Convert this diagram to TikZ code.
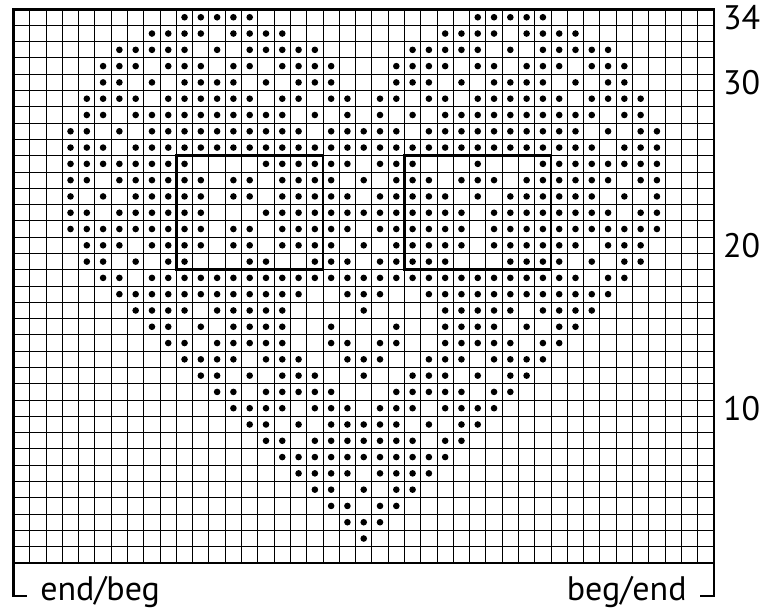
\documentclass[tikz,border=0pt]{standalone}
\usepackage{fontspec}
\setmainfont{PT Sans}
\usepackage{tikz}

\begin{document}
\begin{tikzpicture}[x=16.29pt,y=16.29pt,gridln/.style={line width=1pt},frame/.style={line width=2.8pt},dot/.style={fill=black},num/.style={font=\fontsize{34}{36}\selectfont,anchor=west,inner sep=0pt},lbl/.style={font=\fontsize{34}{36}\selectfont,inner sep=0pt},brk/.style={line width=2.4pt}]
\useasboundingbox (-0.829,-3.192) rectangle (45.95,34.56);
% chart grid
\foreach \i in {1,...,42} \draw[gridln] (\i,0)--(\i,34);
\foreach \j in {1,...,33} \draw[gridln] (0,\j)--(43,\j);
% stitches, row by row
\foreach \r/\cl in {
34/{11,12,13,14,15,29,30,31,32,33},
33/{9,10,11,12,14,15,16,17,27,28,29,30,32,33,34,35},
32/{7,8,9,10,11,13,15,16,17,18,19,25,26,27,28,29,31,33,34,35,36,37},
31/{6,7,8,10,11,12,14,15,17,18,19,20,24,25,26,27,29,30,32,33,34,36,37,38},
30/{6,7,9,11,12,13,14,16,18,19,20,24,25,26,28,30,31,32,33,35,37,38},
29/{5,6,7,8,10,11,12,13,14,15,17,18,20,21,23,24,26,27,29,30,31,32,33,34,36,37,38,39},
28/{5,6,8,9,10,11,12,13,14,15,16,17,19,21,23,25,27,28,29,30,31,32,33,34,35,36,38,39},
27/{4,5,7,9,10,11,12,13,14,15,16,17,18,20,21,22,23,24,26,27,28,29,30,31,32,33,34,35,37,39,40},
26/{4,5,6,8,9,10,11,12,13,14,15,16,17,18,19,20,21,22,23,24,25,26,27,28,29,30,31,32,33,34,35,36,38,39,40},
25/{4,5,6,7,8,9,10,11,16,17,18,19,20,21,23,24,25,29,33,34,35,36,37,38,39,40},
24/{4,5,7,8,9,10,11,12,14,15,17,18,19,20,22,24,25,26,28,29,30,32,33,34,35,36,37,39,40},
23/{4,6,8,9,10,11,12,14,15,17,18,19,20,21,23,24,25,26,27,29,31,32,33,34,35,36,38,40},
22/{4,5,7,8,9,10,11,12,16,17,18,19,20,21,22,23,24,25,26,27,28,30,31,32,33,34,35,36,37,39,40},
21/{4,5,6,7,8,9,10,11,12,14,15,17,18,19,20,21,23,24,25,26,27,28,30,31,32,33,34,35,36,37,38,39,40},
20/{5,6,7,9,10,11,12,14,15,17,18,19,20,22,24,25,26,27,28,30,31,32,33,34,35,37,38,39},
19/{5,6,8,10,11,15,16,19,20,21,23,24,25,26,27,31,32,33,34,36,38,39},
18/{6,7,9,10,11,12,13,14,15,16,17,18,19,20,21,22,23,24,25,26,27,28,29,30,31,32,33,34,35,37,38},
17/{7,8,9,10,11,12,13,14,15,16,17,18,21,22,23,26,27,28,29,30,31,32,33,34,35,36,37},
16/{8,9,10,11,13,14,15,16,17,22,27,28,29,30,31,33,34,35,36},
15/{9,10,12,14,15,16,17,20,24,27,28,29,30,32,34,35},
14/{10,11,13,14,15,16,17,20,21,23,24,27,28,29,30,31,33,34},
13/{11,12,13,14,16,17,18,21,22,23,26,27,28,30,31,32,33},
12/{12,13,15,17,18,19,22,25,26,27,29,31,32},
11/{13,14,16,17,18,19,20,24,25,26,27,28,30,31},
10/{14,15,16,17,19,20,21,23,24,25,27,28,29,30},
9/{15,16,18,20,21,22,23,24,26,28,29},
8/{16,17,19,20,21,22,23,24,25,27,28},
7/{17,18,19,20,21,22,23,24,25,26,27},
6/{18,19,20,21,23,24,25,26},
5/{19,20,22,24,25},
4/{20,21,23,24},
3/{21,22,23},
2/{22}}
  \foreach \c in \cl \fill[dot] (\c-0.5,\r-0.5) circle[radius=3.3pt];
% outline and repeat boxes
\draw[frame] (0,0) rectangle (43,34);
\draw[frame] (10,18) rectangle (19,25);
\draw[frame] (24,18) rectangle (33,25);
% row numbers
\foreach \r in {34,30,20,10} \node[num] (row\r) at (43.55,\r-0.5) {\r};
% start/end marks
\coordinate (sw) at (0,0);
\coordinate (se) at (43,0);
\coordinate (swend) at (0.83,-2.03);
\coordinate (seend) at (42.17,-2.03);
\node[lbl,anchor=base west] (endbeg) at (1.63,-2.32) {end/beg};
\node[lbl,anchor=base east] (begend) at (41.33,-2.32) {beg/end};
\draw[brk] (sw) |- (swend);
\draw[brk] (se) |- (seend);
\end{tikzpicture}
\end{document}
